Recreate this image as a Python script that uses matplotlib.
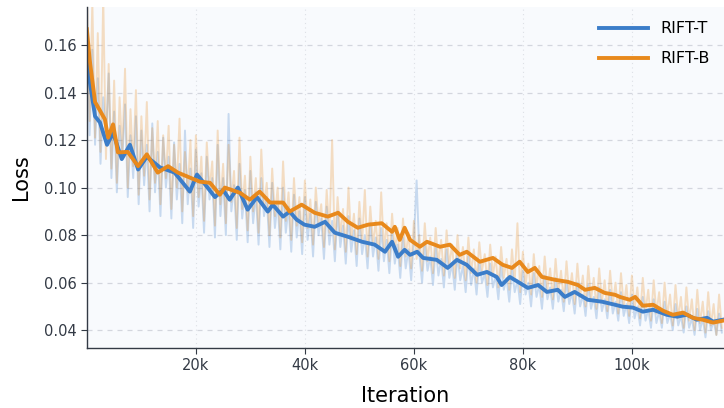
import matplotlib
matplotlib.use("Agg")
import matplotlib.pyplot as plt
import numpy as np
from matplotlib.ticker import FuncFormatter

plt.rcParams.update({
    "font.family": "DejaVu Sans",
    "axes.spines.top": False,
    "axes.spines.right": False,
})

BLUE = "#3b7dc9"
ORANGE = "#e8891c"

# raw loss, logged every 500 iterations (from 0)
raw_step = 500
raw_t = [
    0.170, 0.122, 0.158, 0.118, 0.146, 0.110, 0.138, 0.121, 0.148, 0.104,
    0.132, 0.098, 0.126, 0.112, 0.135, 0.096, 0.122, 0.104, 0.130, 0.093,
    0.124, 0.101, 0.118, 0.090, 0.127, 0.098, 0.115, 0.088, 0.121, 0.100,
    0.113, 0.087, 0.119, 0.095, 0.110, 0.085, 0.124, 0.093, 0.108, 0.083,
    0.116, 0.092, 0.106, 0.081, 0.113, 0.095, 0.104, 0.079, 0.118, 0.088,
    0.104, 0.080, 0.131, 0.090, 0.101, 0.078, 0.110, 0.087, 0.099, 0.077,
    0.107, 0.085, 0.098, 0.076, 0.104, 0.088, 0.096, 0.075, 0.102, 0.083,
    0.094, 0.074, 0.100, 0.081, 0.092, 0.073, 0.097, 0.079, 0.090, 0.072,
    0.096, 0.078, 0.089, 0.071, 0.094, 0.080, 0.087, 0.070, 0.092, 0.076,
    0.086, 0.069, 0.090, 0.075, 0.084, 0.068, 0.088, 0.073, 0.082, 0.067,
    0.087, 0.072, 0.080, 0.066, 0.085, 0.071, 0.079, 0.065, 0.083, 0.069,
    0.078, 0.064, 0.081, 0.068, 0.076, 0.062, 0.079, 0.066, 0.074, 0.061,
    0.078, 0.103, 0.072, 0.060, 0.077, 0.065, 0.071, 0.059, 0.075, 0.063,
    0.070, 0.058, 0.074, 0.062, 0.068, 0.057, 0.072, 0.061, 0.067, 0.056,
    0.071, 0.059, 0.066, 0.055, 0.069, 0.060, 0.064, 0.054, 0.068, 0.058,
    0.063, 0.053, 0.067, 0.057, 0.062, 0.052, 0.066, 0.056, 0.061, 0.051,
    0.065, 0.055, 0.060, 0.050, 0.064, 0.054, 0.059, 0.049, 0.063, 0.053,
    0.058, 0.049, 0.062, 0.052, 0.057, 0.048, 0.061, 0.051, 0.056, 0.047,
    0.060, 0.050, 0.055, 0.046, 0.059, 0.049, 0.054, 0.045, 0.058, 0.048,
    0.053, 0.045, 0.057, 0.047, 0.052, 0.044, 0.056, 0.046, 0.051, 0.043,
    0.055, 0.045, 0.050, 0.042, 0.054, 0.044, 0.049, 0.041, 0.053, 0.043,
    0.048, 0.041, 0.052, 0.043, 0.047, 0.040, 0.051, 0.042, 0.046, 0.039,
    0.050, 0.041, 0.045, 0.038, 0.049, 0.040, 0.045, 0.037, 0.048, 0.040,
    0.044, 0.038, 0.047, 0.039,
]
raw_b = [
    0.185, 0.128, 0.178, 0.121, 0.165, 0.115, 0.180, 0.112, 0.152, 0.108,
    0.145, 0.102, 0.138, 0.115, 0.150, 0.100, 0.133, 0.109, 0.141, 0.097,
    0.130, 0.105, 0.136, 0.095, 0.125, 0.102, 0.128, 0.093, 0.122, 0.104,
    0.126, 0.091, 0.118, 0.100, 0.129, 0.090, 0.115, 0.098, 0.120, 0.088,
    0.122, 0.096, 0.113, 0.086, 0.119, 0.099, 0.111, 0.084, 0.124, 0.093,
    0.110, 0.085, 0.118, 0.094, 0.107, 0.083, 0.121, 0.091, 0.105, 0.082,
    0.113, 0.090, 0.104, 0.081, 0.116, 0.092, 0.102, 0.080, 0.108, 0.088,
    0.100, 0.079, 0.111, 0.086, 0.098, 0.078, 0.104, 0.084, 0.096, 0.077,
    0.103, 0.083, 0.095, 0.076, 0.100, 0.085, 0.093, 0.075, 0.099, 0.081,
    0.120, 0.074, 0.096, 0.080, 0.091, 0.073, 0.100, 0.078, 0.089, 0.072,
    0.094, 0.077, 0.099, 0.071, 0.092, 0.076, 0.086, 0.070, 0.098, 0.074,
    0.085, 0.069, 0.089, 0.073, 0.083, 0.067, 0.087, 0.071, 0.081, 0.066,
    0.086, 0.070, 0.080, 0.065, 0.085, 0.069, 0.079, 0.064, 0.083, 0.068,
    0.078, 0.063, 0.082, 0.067, 0.076, 0.062, 0.080, 0.066, 0.075, 0.061,
    0.079, 0.064, 0.074, 0.060, 0.077, 0.065, 0.072, 0.059, 0.076, 0.063,
    0.071, 0.058, 0.075, 0.062, 0.070, 0.057, 0.074, 0.061, 0.085, 0.056,
    0.073, 0.059, 0.068, 0.055, 0.072, 0.058, 0.067, 0.054, 0.071, 0.057,
    0.066, 0.053, 0.070, 0.056, 0.065, 0.052, 0.069, 0.055, 0.064, 0.051,
    0.068, 0.054, 0.063, 0.050, 0.067, 0.053, 0.062, 0.049, 0.066, 0.052,
    0.061, 0.048, 0.065, 0.051, 0.060, 0.047, 0.064, 0.050, 0.059, 0.046,
    0.063, 0.049, 0.058, 0.045, 0.062, 0.048, 0.057, 0.044, 0.061, 0.047,
    0.056, 0.043, 0.060, 0.046, 0.055, 0.042, 0.059, 0.045, 0.054, 0.041,
    0.058, 0.044, 0.053, 0.040, 0.057, 0.043, 0.052, 0.039, 0.056, 0.042,
    0.051, 0.038, 0.055, 0.041,
]

# smoothed curves, iteration in thousands
smooth_t_k = [0, 0.5, 1.5, 2.4, 3.7, 4.8, 6.4, 7.9, 9.4, 11, 13.4, 16.1, 18.9,
              20.2, 21.7, 23.5, 25, 26.2, 27.7, 29.5, 31.2, 33.2, 34.1, 36,
              37.2, 38.5, 39.9, 41.8, 43.7, 45.5, 47.9, 50.5, 52.8, 54.7, 56,
              57.1, 58.3, 59.3, 60.6, 61.7, 64.2, 66.2, 67.9, 69.7, 71.6, 73.4,
              75.2, 76.1, 77.6, 79.4, 80.9, 82.8, 84.4, 86.4, 87.7, 89.5, 91.9,
              94.5, 96.9, 98.3, 100.2, 102, 103.9, 106.4, 108.3, 110.1, 111.9,
              113.8, 114.9, 116.7]
smooth_t = [0.158, 0.145, 0.130, 0.1274, 0.118, 0.123, 0.112, 0.118, 0.1076,
            0.113, 0.1085, 0.1063, 0.0983, 0.1055, 0.1013, 0.096, 0.099,
            0.0949, 0.100, 0.0907, 0.096, 0.0899, 0.0928, 0.0878, 0.0899,
            0.0865, 0.0844, 0.0835, 0.0856, 0.081, 0.0793, 0.0772, 0.076,
            0.073, 0.0772, 0.0709, 0.0738, 0.0717, 0.073, 0.0704, 0.0696,
            0.0662, 0.0696, 0.0675, 0.0633, 0.0645, 0.0624, 0.059, 0.0624,
            0.0599, 0.0578, 0.059, 0.0561, 0.057, 0.054, 0.0561, 0.0528, 0.052,
            0.0507, 0.0499, 0.0495, 0.0478, 0.0486, 0.0465, 0.0457, 0.0465,
            0.0444, 0.0452, 0.0436, 0.0444]

smooth_b_k = [0, 0.5, 1.5, 2.5, 3.3, 3.9, 4.8, 5.7, 7.5, 9.4, 11, 13, 14.9,
              16.7, 18.9, 20.7, 22.6, 24.4, 25.3, 28.1, 29.9, 31.7, 33.6, 36,
              37.2, 38.5, 39.4, 41.8, 44.2, 46.1, 47.9, 49.7, 51.6, 54.1, 56,
              56.5, 57.4, 58.3, 59.3, 61.1, 62.4, 64.8, 66.6, 68.4, 69.7, 72.1,
              74.5, 76.3, 78, 79.4, 80.9, 82.2, 83.5, 85.9, 88.3, 90.1, 91.4,
              93.2, 95, 96.9, 97.8, 99.6, 100.6, 102, 103.9, 105.7, 107.5,
              109.4, 111.2, 113, 114.9, 116.7]
smooth_b = [0.1666, 0.154, 0.136, 0.132, 0.1287, 0.121, 0.1266, 0.1148, 0.115,
            0.109, 0.114, 0.1063, 0.109, 0.1063, 0.1042, 0.1025, 0.102, 0.097,
            0.100, 0.0978, 0.0949, 0.0983, 0.0937, 0.0937, 0.0899, 0.0916,
            0.0928, 0.0894, 0.0878, 0.0894, 0.0856, 0.0831, 0.0844, 0.085,
            0.0814, 0.0835, 0.078, 0.0831, 0.078, 0.0751, 0.0772, 0.0751,
            0.076, 0.0717, 0.073, 0.0688, 0.0704, 0.0675, 0.0662, 0.0688,
            0.0645, 0.0662, 0.0624, 0.0612, 0.0603, 0.059, 0.057, 0.0578,
            0.0557, 0.0549, 0.054, 0.0528, 0.054, 0.0503, 0.0507, 0.0482,
            0.0465, 0.0474, 0.0452, 0.0444, 0.0432, 0.044]

x_ticks_k = [20, 40, 60, 80, 100]
y_ticks = [0.04, 0.06, 0.08, 0.10, 0.12, 0.14, 0.16]

fig = plt.figure(figsize=(7.24, 4.08), dpi=100)
ax = fig.add_axes([0.120, 0.147, 0.880, 0.836])
ax.set_facecolor("#f8fafd")

raw_x_t = np.arange(len(raw_t)) * raw_step
raw_x_b = np.arange(len(raw_b)) * raw_step
ax.plot(raw_x_t, raw_t, color=BLUE, lw=1.4, alpha=0.26)
ax.plot(raw_x_b, raw_b, color=ORANGE, lw=1.4, alpha=0.26)
ax.plot(np.array(smooth_t_k) * 1000, smooth_t, color=BLUE, lw=2.8, label="RIFT-T")
ax.plot(np.array(smooth_b_k) * 1000, smooth_b, color=ORANGE, lw=2.8, label="RIFT-B")

ax.set_xlim(0, 116900)
ax.set_ylim(0.0325, 0.176)
ax.set_xticks(np.array(x_ticks_k) * 1000)
ax.xaxis.set_major_formatter(FuncFormatter(lambda v, p: f"{v / 1000:.0f}k"))
ax.set_yticks(y_ticks)
ax.yaxis.set_major_formatter(FuncFormatter(lambda v, p: f"{v:.2f}"))

ax.grid(axis="y", ls=(0, (4, 4)), color="#d3d6de", lw=0.9)
ax.grid(axis="x", ls=(0, (1, 3)), color="#dde0e6", lw=0.8)
ax.set_axisbelow(True)
for s in ("left", "bottom"):
    ax.spines[s].set_color("#333a45")
    ax.spines[s].set_linewidth(1.0)
ax.tick_params(colors="#333a45", labelsize=10.5, length=4)

ax.set_xlabel("Iteration", fontsize=15, labelpad=9)
ax.set_ylabel("Loss", fontsize=15, labelpad=9)

ax.legend(loc="upper right", frameon=False, fontsize=11.5, handlelength=3.1,
          handletextpad=0.75, labelspacing=0.95, borderaxespad=0.5)

fig.savefig("out.png", dpi=100)
